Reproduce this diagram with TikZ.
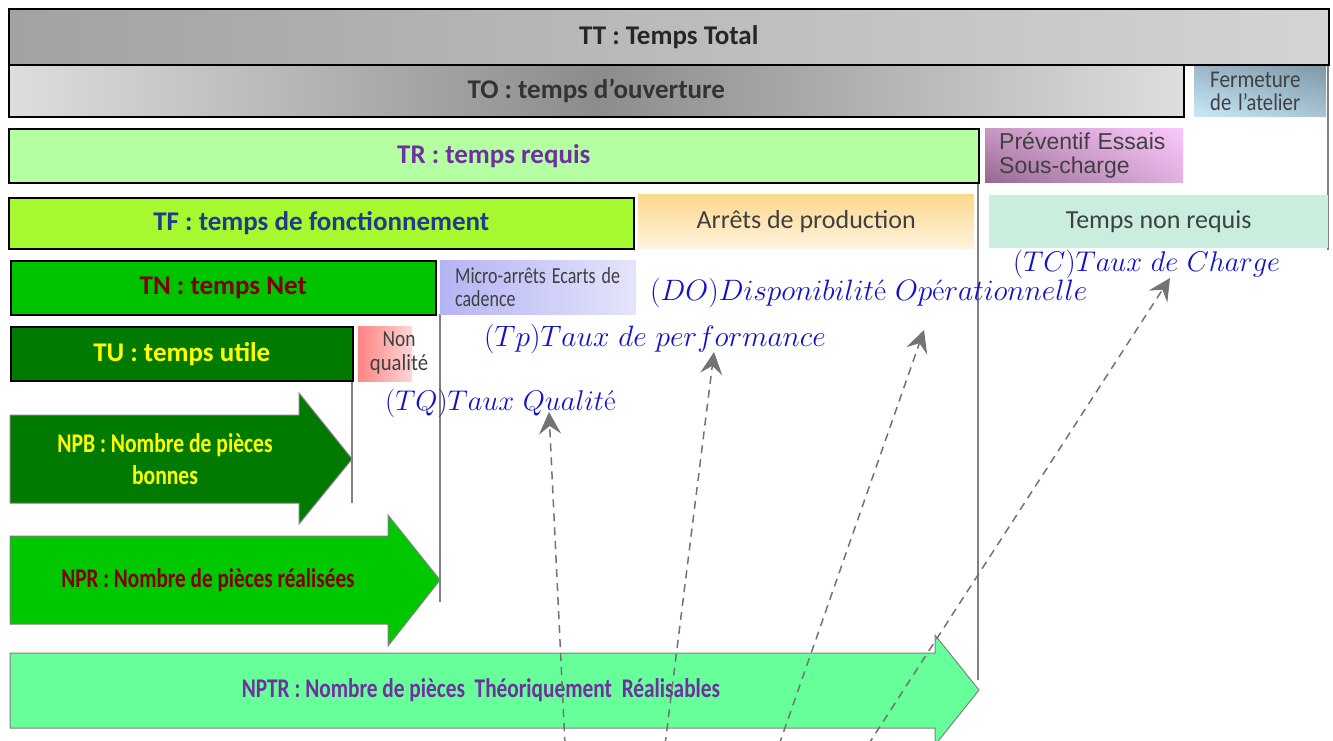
\RequirePackage{fix-cm}
\documentclass[tikz,border=0pt]{standalone}
\usepackage{graphicx}
\usepackage{fontspec}
\newfontfamily\cf{Carlito}
\newfontfamily\arl{Liberation Sans}
\newcommand{\sqz}[2][0.85]{\scalebox{#1}[1]{#2}}
\usetikzlibrary{arrows.meta,shadings}
\definecolor{ttL}{HTML}{A2A2A2}
\definecolor{ttR}{HTML}{D4D4D4}
\definecolor{toE}{HTML}{DEDEDE}
\definecolor{toM}{HTML}{8C8C8C}
\definecolor{trF}{HTML}{B3FFA1}
\definecolor{tfF}{HTML}{A6F92F}
\definecolor{tnF}{HTML}{00C300}
\definecolor{tuF}{HTML}{007A00}
\definecolor{nprF}{HTML}{00C800}
\definecolor{nptrF}{HTML}{66FF99}
\definecolor{purp}{HTML}{7030A0}
\definecolor{navy}{HTML}{203A8C}
\definecolor{dred}{HTML}{800000}
\definecolor{yel}{HTML}{FFFF00}
\definecolor{mint}{HTML}{C9EEDD}
\definecolor{blu}{HTML}{1212C8}
\definecolor{txg}{HTML}{404040}
\definecolor{lineg}{HTML}{808080}
\definecolor{arrg}{HTML}{737373}
\definecolor{faUL}{HTML}{9DB8C8}
\definecolor{faUR}{HTML}{7E98A8}
\definecolor{faLL}{HTML}{C8E8F8}
\definecolor{faLR}{HTML}{A8C4D4}
\definecolor{peUL}{HTML}{C898C4}
\definecolor{peUR}{HTML}{F9C6FA}
\definecolor{peLL}{HTML}{966890}
\definecolor{peLR}{HTML}{E0B0E0}
\definecolor{apT}{HTML}{FDD78C}
\definecolor{apB}{HTML}{FEF3DE}
\definecolor{maL}{HTML}{B4B4F4}
\definecolor{maR}{HTML}{E4E4FB}
\definecolor{nqL}{HTML}{FF8484}
\definecolor{nqR}{HTML}{FFD6D6}
\tikzset{
  bar/.style={draw=black, line width=1.6pt, inner sep=0pt, anchor=north west, font=\cf\bfseries\fontsize{27}{30}\selectfont},
  softbox/.style={draw=none, inner sep=0pt, anchor=north west},
  vline/.style={draw=lineg, line width=1.2pt},
  bigarrow/.style={draw=gray, line width=1pt},
  rate/.style={text=blu, anchor=base west, inner sep=0pt},
  guide/.style={draw=arrg, line width=1.5pt, dash pattern=on 8pt off 6pt, -{Stealth[length=22pt, width=22pt, inset=8pt]}}
}
\begin{document}
\begin{tikzpicture}[x=1pt,y=-1pt]
\useasboundingbox (0,0) rectangle (1333,741);
\fill[white] (0,0) rectangle (1333,741);

% vertical guide lines
\draw[vline] (1328,64) -- (1328,250);
\draw[vline] (978,182) -- (978,680);
\draw[vline] (440,314) -- (440,602);
\draw[vline] (352,380) -- (352,503);

% top bars
\node[bar, left color=ttL, right color=ttR, minimum width=1320, minimum height=56, text=black!85] (TT) at (8,8) {\raisebox{4pt}{TT : Temps Total}};
\node[bar, left color=toE, right color=toE, middle color=toM, minimum width=1175, minimum height=52, text=black!80] (TO) at (8,64) {\raisebox{2pt}{TO : temps d’ouverture}};
\node[softbox, upper left=faUL, upper right=faUR, lower left=faLL, lower right=faLR, minimum width=132, minimum height=50, align=left, text width=100, inner xsep=16, text=txg, font=\cf\fontsize{24}{23}\selectfont] (FA) at (1194,66) {\sqz[0.88]{Fermeture}\\\sqz[0.86]{de l’atelier}};

\node[bar, fill=trF, minimum width=970, minimum height=54, text=purp] (TR) at (8,128) {\raisebox{2pt}{TR : temps requis}};
\node[softbox, upper left=peUL, upper right=peUR, lower left=peLL, lower right=peLR, minimum width=198, minimum height=54, align=left, text width=170, inner xsep=14, text=txg, font=\arl\fontsize{23}{24}\selectfont] (PE) at (985,128) {\raisebox{-3pt}{\parbox{170pt}{Préventif Essais\\Sous-charge}}};

\node[bar, fill=tfF, minimum width=625, minimum height=51, text=navy] (TF) at (8,197) {TF : temps de fonctionnement};
\node[softbox, top color=apT, bottom color=apB, minimum width=336, minimum height=54, text=txg, font=\cf\fontsize{26}{28}\selectfont] (AP) at (638,194) {\raisebox{-5pt}{Arrêts de production}};
\node[softbox, fill=mint, minimum width=339, minimum height=53, text=txg, font=\cf\fontsize{26}{28}\selectfont] (TNR) at (989,195) {\raisebox{-4pt}{Temps non requis}};

\node[bar, fill=tnF, minimum width=425, minimum height=54, text=dred] (TN) at (10,260) {\raisebox{3pt}{TN : temps Net}};
\node[softbox, left color=maL, right color=maR, minimum width=196, minimum height=54, align=left, text width=166, inner xsep=15, text=txg, font=\cf\fontsize{23}{23}\selectfont] (MA) at (440,260) {\sqz[0.78]{Micro-arrêts Ecarts de}\\\sqz[0.78]{cadence}};

\node[bar, fill=tuF, minimum width=342, minimum height=54, text=yel] (TU) at (10,326) {\raisebox{2pt}{TU : temps utile}};
\node[softbox, left color=nqL, right color=nqR, minimum width=54, minimum height=55] (NQ) at (358,326) {};
\node[text=txg, align=center, inner sep=0pt, font=\cf\fontsize{23}{24}\selectfont] (NQt) at (399,353) {\sqz[0.84]{Non}\\\sqz[0.9]{qualité}};

% piece-count arrows
\draw[bigarrow, fill=tuF] (10,415) -- (299,415) -- (299,393) -- (352,459) -- (299,524) -- (299,503) -- (10,503) -- cycle;
\node[text=yel, align=center, inner sep=0pt, font=\cf\bfseries\fontsize{27}{32}\selectfont] (NPB) at (165,459) {\sqz[0.8]{NPB : Nombre de pièces}\\\sqz[0.8]{bonnes}};
\draw[bigarrow, fill=nprF] (10,536) -- (388,536) -- (388,515) -- (440,580) -- (388,646) -- (388,624) -- (10,624) -- cycle;
\node[text=dred, inner sep=0pt, font=\cf\bfseries\fontsize{27}{30}\selectfont] (NPR) at (208,580) {\sqz[0.785]{NPR : Nombre de pièces réalisées}};
\draw[bigarrow, fill=nptrF] (10,653) -- (935,653) -- (935,635) -- (979,690) -- (935,745) -- (935,728) -- (10,728) -- cycle;
\node[text=purp, inner sep=0pt, font=\cf\bfseries\fontsize{27}{30}\selectfont] (NPTR) at (481,690) {\sqz[0.79]{NPTR : Nombre de pièces\ \ Théoriquement\ \ Réalisables}};

% rate labels
\node[rate, font=\fontsize{28.5}{30}\selectfont] (TC) at (1013,271) {$(TC)Taux\ de\ Charge$};
\node[rate, font=\fontsize{29.5}{30}\selectfont] (DO) at (650,300) {$(DO)Disponibilit$é$\ Op$é$rationnelle$};
\node[rate, font=\fontsize{29.5}{30}\selectfont] (TP) at (484,346) {$(Tp)Taux\ de\ performance$};
\node[rate, font=\fontsize{28.5}{30}\selectfont] (TQ) at (385,410) {$(TQ)Taux\ Qualit$é};

% dashed pointers
\coordinate (q0) at (565,745);
\coordinate (q1) at (549,412);
\coordinate (p0) at (665,745);
\coordinate (p1) at (714,352);
\coordinate (d0) at (779,745);
\coordinate (d1) at (924,330);
\coordinate (c0) at (868,745);
\coordinate (c1) at (1170,278);
\draw[guide] (q0) -- (q1);
\draw[guide] (p0) -- (p1);
\draw[guide] (d0) -- (d1);
\draw[guide] (c0) -- (c1);
\end{tikzpicture}
\end{document}
